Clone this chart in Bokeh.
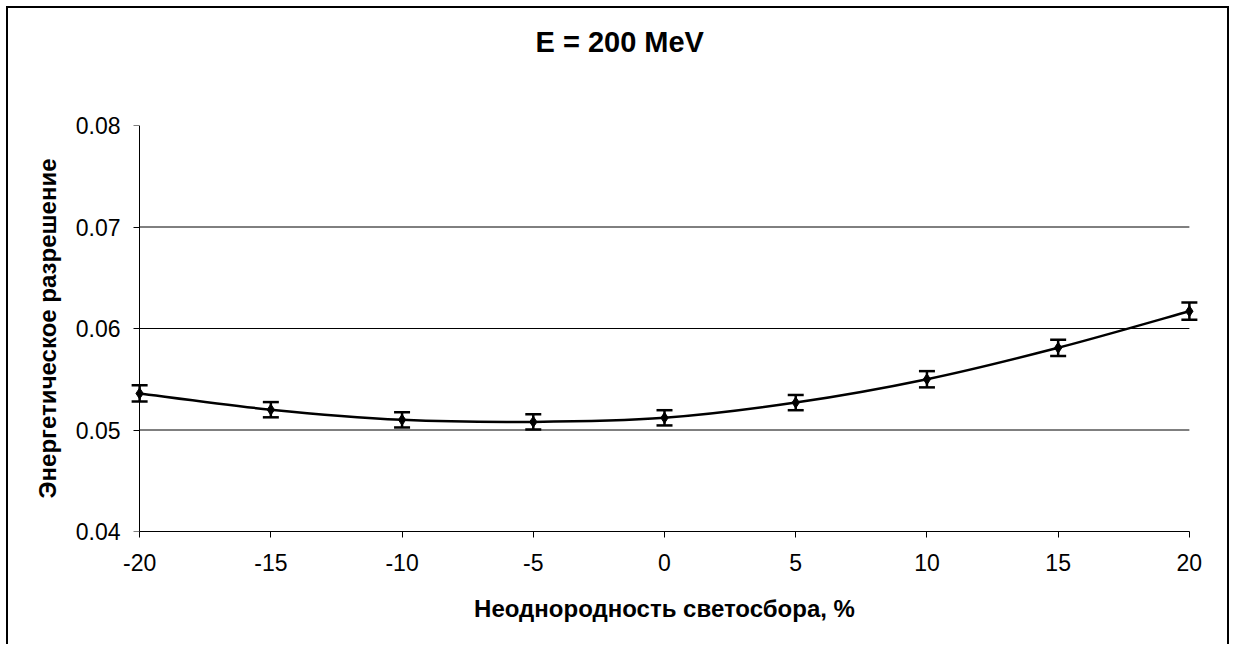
from bokeh.plotting import figure
from bokeh.models import (ColumnDataSource, Whisker, TeeHead, FixedTicker, NumeralTickFormatter,
                          Range1d, Title, LinearAxis)
from bokeh.embed import file_html
from bokeh.resources import INLINE

# ---- data ----
x_vals = [-20, -15, -10, -5, 0, 5, 10, 15, 20]
y_vals = [0.0536, 0.0520, 0.0510, 0.0508, 0.0512, 0.0527, 0.0550, 0.0581, 0.0617]
y_err = [0.0008, 0.00075, 0.00075, 0.00075, 0.00075, 0.00075, 0.0008, 0.0008, 0.00085]
x_ticks = [-20, -15, -10, -5, 0, 5, 10, 15, 20]
x_tick_labels = ["-20", "-15", "-10", "-5", "0", "5", "10", "15", "20"]
y_ticks = [0.04, 0.05, 0.06, 0.07, 0.08]
y_grid = [0.05, 0.06, 0.07]
title_text = "E = 200 MeV"
x_label = "Неоднородность светосбора, %"
y_label = "Энергетическое разрешение"

FONT = "Liberation Sans"
W, H = 1223, 638

p = figure(width=W, height=H, output_backend="svg", toolbar_location=None, title=None,
           x_range=Range1d(-20.5, 20.5), y_range=Range1d(0.04, 0.08),
           min_border_left=118, min_border_right=29, min_border_top=117, min_border_bottom=115,
           x_axis_type=None, y_axis_type=None)
p.styles = {"border": "2px solid black", "border-bottom": "none",
            "margin-left": "6px", "margin-top": "6px"}
p.outline_line_color = None
p.background_fill_color = "white"
p.border_fill_color = "white"
p.xgrid.visible = False
p.ygrid.visible = False


def style_axis(ax):
    ax.axis_line_color = "black"
    ax.axis_line_width = 1
    ax.major_tick_line_color = "black"
    ax.major_tick_out = 6
    ax.major_tick_in = 0
    ax.minor_tick_out = 0
    ax.minor_tick_in = 0
    ax.major_label_text_font = FONT
    ax.major_label_text_font_size = "23px"
    ax.major_label_text_color = "black"
    ax.axis_label_text_font = FONT
    ax.axis_label_text_font_size = "24px"
    ax.axis_label_text_font_style = "bold"
    ax.axis_label_text_color = "black"


# x axis (normal, bounded to the tick range)
xa = LinearAxis(ticker=FixedTicker(ticks=x_ticks), bounds=(x_ticks[0], x_ticks[-1]),
                axis_label=x_label,
                major_label_overrides=dict(zip(x_ticks, x_tick_labels)))
style_axis(xa)
xa.major_label_standoff = 16
xa.axis_label_standoff = 21
p.add_layout(xa, "below")

# y axis labels (normal axis, line and ticks hidden)
ya = LinearAxis(ticker=FixedTicker(ticks=y_ticks), axis_label=y_label,
                formatter=NumeralTickFormatter(format="0.00"))
style_axis(ya)
ya.axis_line_color = None
ya.major_tick_line_color = None
ya.major_tick_out = 0
ya.major_label_standoff = 6
ya.axis_label_standoff = 12
p.add_layout(ya, "left")

# y axis line + ticks at x = -20
ya2 = LinearAxis(ticker=FixedTicker(ticks=y_ticks), fixed_location=x_ticks[0],
                 bounds=(y_ticks[0], y_ticks[-1]),
                 major_label_overrides={t: "" for t in y_ticks})
style_axis(ya2)
ya2.major_label_standoff = 0
p.add_layout(ya2, "left")

# gridlines
p.segment(x0=[x_ticks[0]] * len(y_grid), x1=[x_ticks[-1]] * len(y_grid), y0=y_grid, y1=y_grid,
          line_color="black", line_width=1)

# smooth curve (Catmull-Rom -> Bezier segments through the data points)
n = len(x_vals)
bx0, by0, bx1, by1, cx0, cy0, cx1, cy1 = [], [], [], [], [], [], [], []
for i in range(n - 1):
    i0 = max(i - 1, 0)
    i3 = min(i + 2, n - 1)
    bx0.append(x_vals[i]); by0.append(y_vals[i])
    bx1.append(x_vals[i + 1]); by1.append(y_vals[i + 1])
    cx0.append(x_vals[i] + (x_vals[i + 1] - x_vals[i0]) / 6)
    cy0.append(y_vals[i] + (y_vals[i + 1] - y_vals[i0]) / 6)
    cx1.append(x_vals[i + 1] - (x_vals[i3] - x_vals[i]) / 6)
    cy1.append(y_vals[i + 1] - (y_vals[i3] - y_vals[i]) / 6)
p.bezier(x0=bx0, y0=by0, x1=bx1, y1=by1, cx0=cx0, cy0=cy0, cx1=cx1, cy1=cy1,
         line_color="black", line_width=2.5)

src = ColumnDataSource(dict(x=x_vals, y=y_vals,
                            upper=[a + b for a, b in zip(y_vals, y_err)],
                            lower=[a - b for a, b in zip(y_vals, y_err)]))
wh = Whisker(base="x", upper="upper", lower="lower", source=src,
             line_color="black", line_width=2.5,
             upper_head=TeeHead(size=16, line_width=2.5, line_color="black"),
             lower_head=TeeHead(size=16, line_width=2.5, line_color="black"))
p.add_layout(wh)
p.scatter("x", "y", source=src, marker="diamond", size=11, color="black")

# title: spacer (next to frame) + real title above it
p.add_layout(Title(text=" ", text_font_size="1px", standoff=62), "above")
p.add_layout(Title(text=title_text, align="left", offset=409, standoff=2, vertical_align="top",
                   text_font=FONT, text_font_size="29px", text_font_style="bold",
                   text_color="black"), "above")

open("out.html", "w").write(file_html(p, INLINE))
